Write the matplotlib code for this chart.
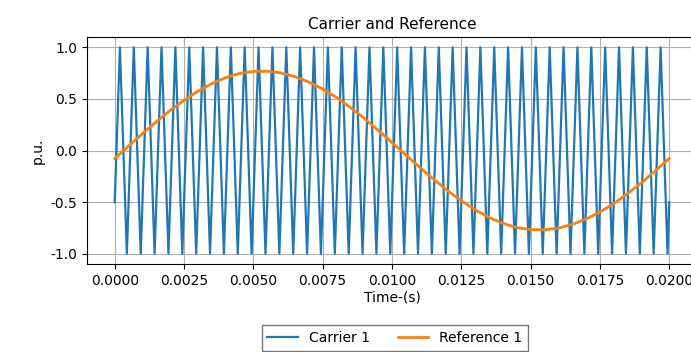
import numpy as np
import matplotlib
matplotlib.use('Agg')
import matplotlib.pyplot as plt

# Carrier: triangle wave (40 periods in 0.02 s)
carrier_period = 0.0005
carrier_periods = 40
carrier_start = -0.5
carrier_peak = 1.0
carrier_trough = -1.0

# Reference: values read every 0.5 ms from 0 to 0.02 s
ref_time = np.linspace(0.0, 0.02, 41)
ref_values = [-0.077, 0.044, 0.164, 0.279, 0.388, 0.487, 0.575, 0.648, 0.706, 0.747,
              0.766, 0.769, 0.752, 0.716, 0.664, 0.596, 0.514, 0.417, 0.311, 0.196,
              0.077, -0.044, -0.164, -0.279, -0.388, -0.487, -0.575, -0.648, -0.706, -0.747,
              -0.766, -0.769, -0.752, -0.716, -0.664, -0.596, -0.514, -0.417, -0.311, -0.196,
              -0.077]

# build the carrier vertices (start, then peak / trough of each period)
car_t = [0.0]
car_v = [carrier_start]
for k in range(carrier_periods):
    car_t += [k * carrier_period + 3 * carrier_period / 8, k * carrier_period + 7 * carrier_period / 8]
    car_v += [carrier_peak, carrier_trough]
car_t.append(carrier_periods * carrier_period)
car_v.append(carrier_start)

fig = plt.figure(figsize=(6.91, 3.52), dpi=100)
ax = fig.add_axes([87 / 691, 1 - 264 / 352, 610 / 691, 227 / 352])

ax.plot(car_t, car_v, color='#1f77b4', lw=1.6, label='Carrier 1')
ax.plot(ref_time, ref_values, color='#ff7f0e', lw=2.0, label='Reference 1')

ax.set_xlim(-0.001, 0.021)
ax.set_ylim(-1.1, 1.1)
ax.set_xticks([0, 0.0025, 0.005, 0.0075, 0.01, 0.0125, 0.015, 0.0175, 0.02])
ax.set_yticks([-1.0, -0.5, 0.0, 0.5, 1.0])
ax.xaxis.set_major_formatter(matplotlib.ticker.FormatStrFormatter('%.4f'))
ax.yaxis.set_major_formatter(matplotlib.ticker.FormatStrFormatter('%.1f'))
ax.grid(True, color='#b0b0b0', lw=0.8)
ax.tick_params(labelsize=10)

ax.set_title('Carrier and Reference', fontsize=11, pad=6)
ax.set_xlabel('Time-(s)', fontsize=10, labelpad=2)
ax.set_ylabel('p.u.', fontsize=10)

fig.legend(loc='center', bbox_to_anchor=(395 / 691, 1 - 338 / 352), ncol=2,
           fontsize=10, fancybox=False, edgecolor='#555555', handlelength=2.2)

fig.savefig('out.png', dpi=100)
